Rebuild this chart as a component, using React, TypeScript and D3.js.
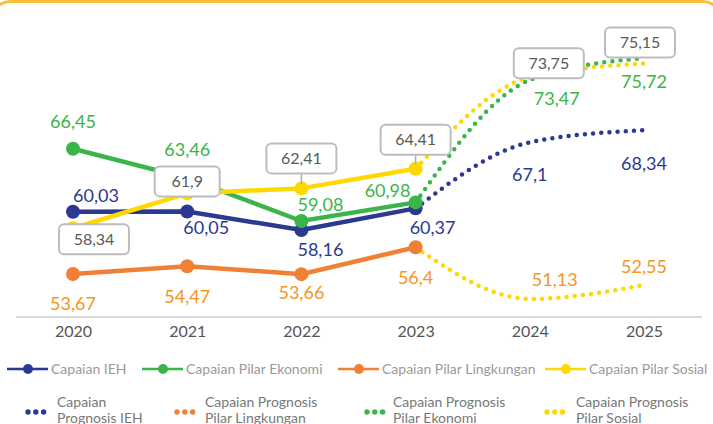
import React, { useEffect, useRef } from 'react';
import * as d3 from 'd3';

// years on the x axis
const years = [2020, 2021, 2022, 2023, 2024, 2025];
const actualYears = [2020, 2021, 2022, 2023];
const prognosisYears = [2023, 2024, 2025];

// capaian (actual) 2020-2023
const capaianIeh = [60.03, 60.05, 58.16, 60.37];
const capaianEkonomi = [66.45, 63.46, 59.08, 60.98];
const capaianLingkungan = [53.67, 54.47, 53.66, 56.4];
const capaianSosial = [58.34, 61.9, 62.41, 64.41];

// prognosis 2023-2025 (starts at the last actual point)
const prognosisIeh = [60.37, 67.1, 68.34];
const prognosisEkonomi = [60.98, 73.47, 75.72];
const prognosisLingkungan = [56.4, 51.13, 52.55];
const prognosisSosial = [64.41, 73.75, 75.15];

const legendRow1 = ['Capaian IEH', 'Capaian Pilar Ekonomi', 'Capaian Pilar Lingkungan', 'Capaian Pilar Sosial'];
const legendRow2 = [
  ['Capaian', 'Prognosis IEH'],
  ['Capaian Prognosis', 'Pilar Lingkungan'],
  ['Capaian Prognosis', 'Pilar Ekonomi'],
  ['Capaian Prognosis', 'Pilar Sosial'],
];

const BLUE = '#2B3990';
const GREEN = '#3AB54A';
const ORANGE = '#EF8035';
const ORANGE_TEXT = '#F7941D';
const YELLOW = '#FFD800';

const fmt = (v: number) => String(v).replace('.', ',');

export default function App() {
  const ref = useRef<SVGSVGElement>(null);

  useEffect(() => {
    const svg = d3.select(ref.current);
    svg.selectAll('*').remove();
    const font = 'Lato, "Open Sans", sans-serif';

    const x = d3.scalePoint<number>().domain(years).range([73, 644]);
    const y = d3.scaleLinear().domain([50, 80]).range([310, 16]);

    // card border, only its top edge is visible
    svg.append('rect')
      .attr('x', -8).attr('y', 1.5)
      .attr('width', 729).attr('height', 500)
      .attr('rx', 18)
      .attr('fill', 'white')
      .attr('stroke', '#F8C03A')
      .attr('stroke-width', 3);

    // x axis
    const axis = svg.append('g')
      .attr('transform', 'translate(0,317)')
      .call(d3.axisBottom(x).tickSize(0).tickPadding(9).tickFormat(d => String(d)));
    axis.select('.domain').remove();
    axis.append('line')
      .attr('x1', 16).attr('x2', 702)
      .attr('stroke', '#D9D9D9').attr('stroke-width', 2);
    axis.selectAll('text')
      .attr('font-family', font).attr('font-size', 16).attr('fill', '#555');

    const solid = d3.line<number>()
      .x((_, i) => x(actualYears[i])!)
      .y(d => y(d));
    const dotted = d3.line<number>()
      .x((_, i) => x(prognosisYears[i])!)
      .y(d => y(d))
      .curve(d3.curveMonotoneX);

    // prognosis dotted lines
    const prognosis: [number[], string][] = [
      [prognosisIeh, BLUE],
      [prognosisLingkungan, YELLOW],
      [prognosisEkonomi, GREEN],
      [prognosisSosial, YELLOW],
    ];
    prognosis.forEach(([vals, c]) => {
      svg.append('path')
        .datum(vals)
        .attr('d', dotted)
        .attr('fill', 'none')
        .attr('stroke', c)
        .attr('stroke-width', 4.5)
        .attr('stroke-linecap', 'round')
        .attr('stroke-dasharray', '0 8.2');
    });

    // actual solid lines with markers
    const actual: [number[], string][] = [
      [capaianLingkungan, ORANGE],
      [capaianIeh, BLUE],
      [capaianEkonomi, GREEN],
      [capaianSosial, YELLOW],
    ];
    actual.forEach(([vals, c]) => {
      svg.append('path')
        .datum(vals)
        .attr('d', solid)
        .attr('fill', 'none')
        .attr('stroke', c)
        .attr('stroke-width', 4.5);
      svg.selectAll(null)
        .data(vals)
        .enter()
        .append('circle')
        .attr('cx', (_, i) => x(actualYears[i])!)
        .attr('cy', d => y(d))
        .attr('r', 7)
        .attr('fill', c);
    });

    // value labels: [values, years, color, offsets dx/dy]
    const labels: [number[], number[], string, [number, number][]][] = [
      [capaianEkonomi, actualYears, GREEN, [[0, -27], [0, -28], [19, -16], [-28, -12]]],
      [prognosisEkonomi.slice(1), [2024, 2025], GREEN, [[27, 19], [0, 24]]],
      [capaianIeh, actualYears, BLUE, [[23, -16], [19, 16], [19, 20], [17, 19]]],
      [prognosisIeh.slice(1), [2024, 2025], BLUE, [[0, 32], [0, 33]]],
      [capaianLingkungan, actualYears, ORANGE_TEXT, [[0, 30], [0, 31], [0, 19], [0, 30]]],
      [prognosisLingkungan.slice(1), [2024, 2025], ORANGE_TEXT, [[25, -19], [0, -18]]],
    ];
    labels.forEach(([vals, ys, c, off]) => {
      svg.append('g')
        .selectAll('text')
        .data(vals)
        .enter()
        .append('text')
        .attr('x', (_, i) => x(ys[i])! + off[i][0])
        .attr('y', (d, i) => y(d) + off[i][1])
        .attr('dy', '0.35em')
        .attr('text-anchor', 'middle')
        .attr('font-family', font)
        .attr('font-size', 18)
        .attr('fill', c)
        .text(d => fmt(d));
    });

    // boxed labels for Pilar Sosial
    const sosialVals = [...capaianSosial, ...prognosisSosial.slice(1)];
    const sosialOff: [number, number, boolean][] = [
      [21, 11, false], [0, -12, false], [0, -30, true], [0, -29, true], [19, -14, false], [-4, -21, false],
    ];
    sosialVals.forEach((v, i) => {
      const px = x(years[i])!;
      const py = y(v);
      const [dx, dy, tick] = sosialOff[i];
      const t = fmt(v);
      const w = t.length > 4 ? 70 : 65;
      const h = 30;
      const g = svg.append('g').attr('transform', `translate(${px + dx},${py + dy})`);
      if (tick) {
        g.append('line')
          .attr('x1', 0).attr('x2', 0)
          .attr('y1', h / 2).attr('y2', -dy - 4)
          .attr('stroke', '#AFAFAF').attr('stroke-width', 1.5);
      }
      g.append('rect')
        .attr('x', -w / 2).attr('y', -h / 2)
        .attr('width', w).attr('height', h)
        .attr('rx', 5)
        .attr('fill', 'white')
        .attr('stroke', '#BDBDBD')
        .attr('stroke-width', 2);
      g.append('text')
        .attr('text-anchor', 'middle')
        .attr('dy', '0.35em')
        .attr('font-family', font)
        .attr('font-size', 16)
        .attr('fill', '#595959')
        .text(t);
    });

    // legend row 1
    const row1Colors = [BLUE, GREEN, ORANGE, YELLOW];
    const row1X = [7, 142, 338, 545];
    legendRow1.forEach((name, i) => {
      const g = svg.append('g').attr('transform', `translate(${row1X[i]},369)`);
      g.append('line').attr('x1', 0).attr('x2', 41)
        .attr('stroke', row1Colors[i]).attr('stroke-width', 2.5);
      g.append('circle').attr('cx', 21).attr('r', 5).attr('fill', row1Colors[i]);
      g.append('text')
        .attr('x', 44).attr('dy', '0.35em')
        .attr('font-family', font).attr('font-size', 14)
        .attr('fill', '#9A9A9A')
        .text(name);
    });

    // legend row 2
    const row2Colors = [BLUE, ORANGE, GREEN, YELLOW];
    const row2X = [28, 177, 367, 547];
    const row2Text = [57, 205, 393, 576];
    legendRow2.forEach((lines, i) => {
      const g = svg.append('g');
      [0, 1, 2].forEach(k => {
        g.append('circle')
          .attr('cx', row2X[i] + k * 7.8).attr('cy', 412)
          .attr('r', 2.7).attr('fill', row2Colors[i]);
      });
      lines.forEach((ln, k) => {
        g.append('text')
          .attr('x', row2Text[i]).attr('y', 402 + k * 16)
          .attr('dy', '0.35em')
          .attr('font-family', font).attr('font-size', 14)
          .attr('fill', '#777')
          .text(ln);
      });
    });

    return () => {
      svg.selectAll('*').remove();
    };
  }, []);

  return (
    <svg
      ref={ref}
      width={713}
      height={424}
      style={{ position: 'absolute', left: 0, top: 0, background: 'white' }}
    />
  );
}
